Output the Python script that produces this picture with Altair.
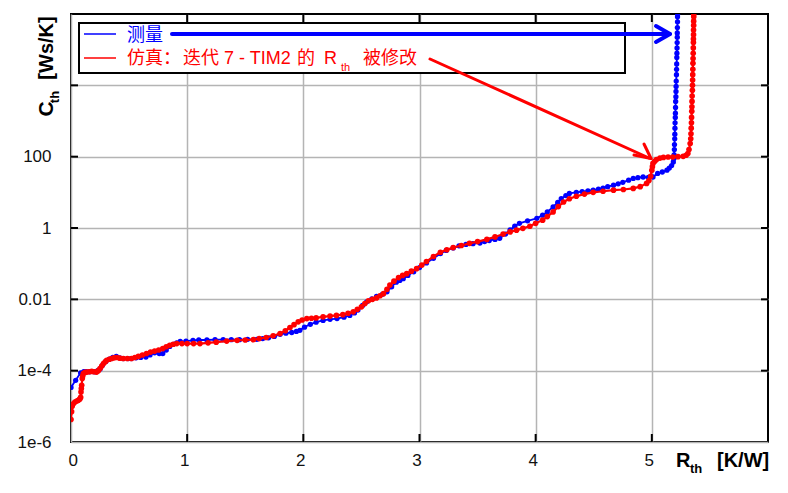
import altair as alt
import pandas as pd

# ---- data (R_th in K/W, log10 of C_th in Ws/K) ----
meas_r = [0.00, 0.04, 0.083, 0.11, 0.13, 0.16, 0.20, 0.23, 0.25, 0.27, 0.30, 0.33, 0.36, 0.39,
          0.42, 0.45, 0.49, 0.52, 0.56, 0.60, 0.645, 0.68, 0.72, 0.76, 0.79, 0.82, 0.85, 0.88,
          0.91, 0.94, 0.99, 1.05, 1.10, 1.17, 1.24, 1.31, 1.38, 1.45, 1.52, 1.60, 1.65, 1.70,
          1.75, 1.80, 1.85, 1.90, 1.94, 1.97, 2.01, 2.06, 2.11, 2.17, 2.23, 2.29, 2.35, 2.40,
          2.44, 2.47, 2.51, 2.545, 2.59, 2.63, 2.68, 2.72, 2.76, 2.80, 2.83, 2.86, 2.90, 2.95,
          3.00, 3.06, 3.12, 3.18, 3.23, 3.29, 3.34, 3.40, 3.46, 3.52, 3.56, 3.60, 3.65, 3.69,
          3.74, 3.78, 3.82, 3.86, 3.93, 4.01, 4.06, 4.10, 4.15, 4.19, 4.22, 4.26, 4.29, 4.35,
          4.40, 4.45, 4.495, 4.54, 4.58, 4.62, 4.67, 4.71, 4.75, 4.80, 4.84, 4.88, 4.925, 4.97,
          5.01, 5.05, 5.09, 5.13, 5.15, 5.17, 5.185, 5.19,
          5.192, 5.194, 5.195, 5.197, 5.198, 5.199, 5.200, 5.202, 5.203, 5.204, 5.205, 5.207,
          5.208, 5.209, 5.210, 5.212, 5.213, 5.214, 5.215, 5.216, 5.217, 5.218, 5.219, 5.219,
          5.220, 5.221, 5.221, 5.222]
meas_log_c = [-4.47, -4.27, -4.06, -4.03, -4.03, -4.03, -4.03, -4.00, -3.95, -3.85, -3.74, -3.68,
              -3.63, -3.60, -3.64, -3.66, -3.66, -3.66, -3.64, -3.63, -3.62, -3.56, -3.50, -3.52,
              -3.52, -3.42, -3.32, -3.26, -3.22, -3.18, -3.17, -3.15, -3.14, -3.14, -3.13, -3.13,
              -3.13, -3.13, -3.12, -3.12, -3.10, -3.08, -3.04, -2.98, -2.95, -2.93, -2.90, -2.87,
              -2.78, -2.70, -2.64, -2.59, -2.56, -2.54, -2.50, -2.45, -2.38, -2.30, -2.17, -2.07,
              -1.99, -1.92, -1.86, -1.79, -1.65, -1.52, -1.47, -1.42, -1.33, -1.23, -1.11, -0.98,
              -0.85, -0.72, -0.63, -0.56, -0.50, -0.46, -0.44, -0.42, -0.38, -0.35, -0.32, -0.29,
              -0.17, -0.05, 0.05, 0.13, 0.20, 0.27, 0.36, 0.45, 0.59, 0.72, 0.82, 0.91, 0.97,
              1.00, 1.02, 1.04, 1.06, 1.09, 1.12, 1.16, 1.20, 1.24, 1.28, 1.34, 1.39, 1.41, 1.43,
              1.42, 1.43, 1.53, 1.57, 1.62, 1.68, 1.75, 1.85, 1.95,
              2.05, 2.20, 2.34, 2.50, 2.63, 2.80, 2.95, 3.10, 3.22, 3.38, 3.55, 3.68, 3.83, 3.97,
              4.12, 4.30, 4.45, 4.60, 4.78, 4.90, 5.05, 5.20, 5.35, 5.47, 5.62, 5.78, 5.92, 6.00]

sim_r = [0.00, 0.005, 0.01, 0.02, 0.034, 0.05, 0.063, 0.075, 0.083, 0.086, 0.089, 0.092, 0.097,
         0.101, 0.106, 0.12, 0.135, 0.155, 0.178, 0.20, 0.22, 0.235, 0.25, 0.265, 0.28, 0.295,
         0.307, 0.33, 0.35, 0.37, 0.393, 0.42, 0.45, 0.485, 0.52, 0.55, 0.58, 0.615, 0.65,
         0.685, 0.72, 0.755, 0.79, 0.82, 0.85, 0.88, 0.91, 0.955, 1.00, 1.055, 1.11, 1.18, 1.25,
         1.34, 1.43, 1.50, 1.57, 1.62, 1.68, 1.74, 1.80, 1.845, 1.885, 1.92, 1.956, 1.99, 2.03,
         2.07, 2.11, 2.17, 2.23, 2.285, 2.34, 2.385, 2.43, 2.465, 2.50, 2.53, 2.56, 2.595, 2.63,
         2.66, 2.69, 2.72, 2.745, 2.78, 2.82, 2.855, 2.89, 2.93, 2.975, 3.02, 3.06, 3.12, 3.18,
         3.235, 3.29, 3.36, 3.43, 3.50, 3.58, 3.65, 3.72, 3.78, 3.835, 3.89, 3.95, 4.00, 4.06,
         4.10, 4.15, 4.195, 4.24, 4.29, 4.35, 4.42, 4.495, 4.58, 4.67, 4.755, 4.84, 4.90, 4.955,
         4.975, 4.99, 5.00, 5.005, 5.01, 5.025, 5.04, 5.07, 5.10, 5.14, 5.18, 5.225, 5.27, 5.295,
         5.31, 5.32, 5.33,
         5.335, 5.337, 5.339, 5.341, 5.342, 5.344, 5.345, 5.346, 5.347, 5.349, 5.350, 5.351,
         5.352, 5.353, 5.354, 5.355, 5.356, 5.357, 5.358, 5.358, 5.359, 5.359, 5.360, 5.360,
         5.361, 5.361]
sim_log_c = [-5.37, -5.15, -5.00, -4.93, -4.88, -4.85, -4.83, -4.80, -4.75, -4.60, -4.50, -4.41,
             -4.22, -4.15, -4.08, -4.05, -4.04, -4.03, -4.02, -4.03, -4.04, -4.00, -3.94, -3.87,
             -3.80, -3.75, -3.71, -3.68, -3.66, -3.64, -3.63, -3.65, -3.66, -3.66, -3.66, -3.63,
             -3.60, -3.56, -3.52, -3.48, -3.45, -3.42, -3.38, -3.33, -3.29, -3.26, -3.24, -3.24,
             -3.24, -3.24, -3.24, -3.22, -3.20, -3.17, -3.15, -3.14, -3.13, -3.10, -3.07, -3.02,
             -2.96, -2.88, -2.79, -2.71, -2.63, -2.58, -2.54, -2.53, -2.52, -2.49, -2.47, -2.45,
             -2.43, -2.39, -2.35, -2.28, -2.21, -2.12, -2.04, -2.00, -1.96, -1.90, -1.84, -1.72,
             -1.60, -1.49, -1.39, -1.33, -1.28, -1.21, -1.14, -1.04, -0.94, -0.80, -0.68, -0.61,
             -0.55, -0.49, -0.43, -0.38, -0.32, -0.25, -0.17, -0.11, -0.06, -0.01, 0.05, 0.13,
             0.22, 0.32, 0.45, 0.60, 0.73, 0.82, 0.89, 0.95, 1.00, 1.03, 1.06, 1.08, 1.11, 1.16,
             1.25, 1.33, 1.45, 1.62, 1.72, 1.81, 1.87, 1.92, 1.96, 1.98, 1.99, 1.99, 2.00, 2.01,
             2.04, 2.09, 2.20, 2.37,
             2.50, 2.64, 2.80, 2.95, 3.10, 3.27, 3.40, 3.55, 3.70, 3.86, 4.00, 4.15, 4.30, 4.45,
             4.62, 4.75, 4.90, 5.05, 5.20, 5.30, 5.42, 5.55, 5.68, 5.80, 5.92, 6.00]

x_ticks = [0, 1, 2, 3, 4, 5]
y_ticks = [1e-6, 1e-4, 1e-2, 1, 100, 1e4]
inner_x_ticks = [1, 2, 3, 4, 5]
inner_y_ticks = [1e-4, 1e-2, 1, 100, 1e4]

legend_meas = "测量"
legend_sim_parts = ["仿真：", "迭代", "7 - TIM2", "的", "R"]
legend_sim_sub = "th"
legend_sim_end = "被修改"

W, H = 697, 428
BLUE = "#0000ff"
RED = "#ff0000"
FONT = "Liberation Sans, Noto Sans CJK SC"

meas = pd.DataFrame({"R": meas_r, "C": [10 ** v for v in meas_log_c], "i": range(len(meas_r))})
sim = pd.DataFrame({"R": sim_r, "C": [10 ** v for v in sim_log_c], "i": range(len(sim_r))})

xscale = alt.Scale(domain=[0, 6], nice=False, zero=False)
yscale = alt.Scale(type="log", domain=[1e-6, 1e6], nice=False)

label_expr = ("datum.value < 1e-5 ? '1e-6' : datum.value < 1e-3 ? '1e-4' : "
              "datum.value < 0.1 ? '0.01' : datum.value < 10 ? '1' : "
              "datum.value < 1000 ? '100' : ''")

xaxis = alt.Axis(values=x_ticks, title=None, grid=True, domain=False, ticks=False,
                 labelPadding=10, labelFontSize=17, labelFont=FONT, labelColor="#111",
                 gridColor="#b4b4b4", gridWidth=1.5, labelOffset=-3)
yaxis = alt.Axis(values=y_ticks, title=None, grid=True, domain=False, ticks=False,
                 labelPadding=20, labelFontSize=17, labelFont=FONT, labelColor="#111",
                 gridColor="#b4b4b4", gridWidth=1.5, labelExpr=label_expr)

X = alt.X("R:Q", scale=xscale, axis=xaxis)
Y = alt.Y("C:Q", scale=yscale, axis=yaxis)


def series(df, color, width, size):
    return alt.Chart(df).mark_line(
        color=color, strokeWidth=width, clip=True,
        point=alt.OverlayMarkDef(filled=True, size=size, color=color, opacity=1),
    ).encode(x=X, y=Y, order=alt.Order("i:Q"))


blue = series(meas, BLUE, 1.8, 28)
red = series(sim, RED, 2.2, 32)

one = pd.DataFrame({"a": [0]})

# inward ticks (mirrored on all four sides)
xt = pd.DataFrame({"R": inner_x_ticks})
yt = pd.DataFrame({"C": inner_y_ticks})
tick_style = dict(color="black", strokeWidth=2)
ticks = [
    alt.Chart(xt).mark_rule(**tick_style).encode(x=X, y=alt.value(H), y2=alt.value(H - 8)),
    alt.Chart(xt).mark_rule(**tick_style).encode(x=X, y=alt.value(0), y2=alt.value(8)),
    alt.Chart(yt).mark_rule(**tick_style).encode(y=Y, x=alt.value(0), x2=alt.value(7)),
    alt.Chart(yt).mark_rule(**tick_style).encode(y=Y, x=alt.value(W), x2=alt.value(W - 7)),
]

# legend box
box = alt.Chart(one).mark_rect(fill="white", stroke="black", strokeWidth=2).encode(
    x=alt.value(8), x2=alt.value(554), y=alt.value(9), y2=alt.value(59))
leg_blue = alt.Chart(one).mark_rule(color=BLUE, strokeWidth=1.5).encode(
    x=alt.value(13), x2=alt.value(45), y=alt.value(20))
leg_red = alt.Chart(one).mark_rule(color=RED, strokeWidth=1.5).encode(
    x=alt.value(13), x2=alt.value(45), y=alt.value(44))


def text(s, x, y, color="black", size=18, bold=False, align="left", angle=0, baseline="middle"):
    kw = dict(text=s, color=color, fontSize=size, font=FONT, align=align, baseline=baseline)
    if bold:
        kw["fontWeight"] = "bold"
    if angle:
        kw["angle"] = angle
    return alt.Chart(one).mark_text(**kw).encode(x=alt.value(x), y=alt.value(y))


sim_x = [56, 112, 153, 226, 253]
texts = [text(legend_meas, 56, 22, BLUE)]
texts += [text(s, x, 45, RED) for s, x in zip(legend_sim_parts, sim_x)]
texts += [
    text(legend_sim_sub, 270, 54, RED, size=11),
    text(legend_sim_end, 292, 45, RED),
    # y title
    text("C", -24, 95, size=21, bold=True, align="center", angle=270),
    text("th", -16, 83, size=13, bold=True, align="center", angle=270),
    text("[Ws/K]", -24, 34, size=20, bold=True, align="center", angle=270),
    # x title
    text("R", 605, 447, size=20, bold=True),
    text("th", 619, 455, size=13, bold=True),
    text("[K/W]", 646, 447, size=20, bold=True),
]


def seg(x1, y1, x2, y2, color, w):
    return alt.Chart(one).mark_rule(color=color, strokeWidth=w, strokeCap="round").encode(
        x=alt.value(x1), y=alt.value(y1), x2=alt.value(x2), y2=alt.value(y2))


arrows = [
    seg(101, 20, 597, 20, BLUE, 4),
    seg(599, 20, 585, 12, BLUE, 4),
    seg(599, 20, 585, 28, BLUE, 4),
    seg(359, 45, 578, 144, RED, 3),
    seg(580, 144.5, 563, 141, RED, 3),
    seg(580, 144.5, 573, 130, RED, 3),
]

chart = alt.layer(blue, red, *ticks, box, leg_blue, leg_red, *texts, *arrows).properties(
    width=W, height=H,
    autosize=alt.AutoSizeParams(type="none"),
    padding={"left": 63, "top": 6, "right": 10, "bottom": 40},
    background="white",
).configure_view(stroke="black", strokeWidth=2)

chart.save("out.html", embed_options={"renderer": "svg", "actions": False})
